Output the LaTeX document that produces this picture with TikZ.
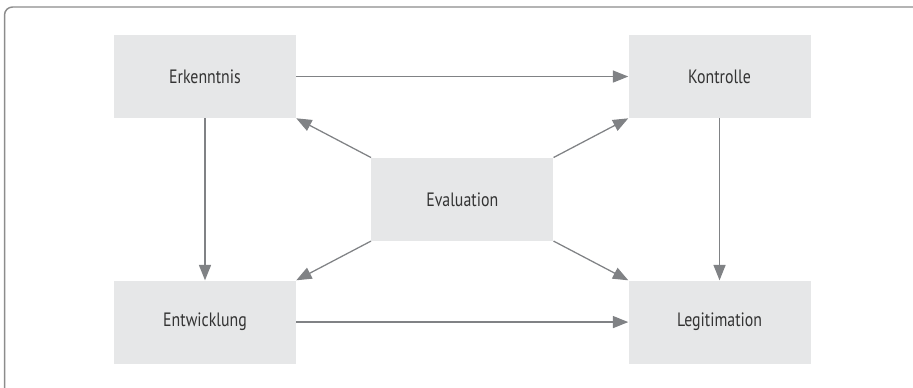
\documentclass[tikz,border=0pt]{standalone}
\usepackage{fontspec}
\setmainfont[FakeStretch=0.82]{PT Sans}
\usetikzlibrary{arrows.meta,positioning,calc}
\definecolor{boxgray}{HTML}{E6E7E8}
\definecolor{linegray}{HTML}{808285}
\definecolor{framegray}{HTML}{8C8C8C}
\definecolor{textgray}{HTML}{333333}
\tikzset{
    stage/.style={rectangle, fill=boxgray, text=textgray, font=\fontsize{14.5}{17}\selectfont, minimum width=136.5pt, minimum height=62.25pt, inner sep=0pt},
    flow/.style={draw=linegray, line width=0.95pt, -{Triangle[length=11.5pt, width=9pt]}},
    frameline/.style={draw=framegray, line width=1.1pt, rounded corners=6pt}
}
\begin{document}
\begin{tikzpicture}[>=Latex]

\useasboundingbox (0,0) rectangle (684.75pt,-290.25pt);

% ----------------------------
% Frame
% ----------------------------
\draw[frameline] (3.4pt,-291pt) -- (3.4pt,-5.25pt) -- (686pt,-5.25pt);

% ----------------------------
% Nodes
% ----------------------------
\node[stage] (erk) at (153.75pt,-57.4pt) {Erkenntnis};
\node[stage, right=249pt of erk] (kon) {Kontrolle};
\node[stage, below=121.5pt of erk] (ent) {Entwicklung};
\node[stage, below=121.5pt of kon] (leg) {Legitimation};
\node[stage] (eva) at ($(erk)!0.5!(leg)$) {Evaluation};

% ----------------------------
% Outer arrows
% ----------------------------
\draw[flow] (erk) -- (kon);
\draw[flow] (ent) -- (leg);
\draw[flow] (erk) -- (ent);
\draw[flow] (kon) -- (leg);

% ----------------------------
% Evaluation arrows (corner to corner)
% ----------------------------
\draw[flow] (eva.north west) -- (erk.south east);
\draw[flow] (eva.north east) -- (kon.south west);
\draw[flow] (eva.south west) -- (ent.north east);
\draw[flow] (eva.south east) -- (leg.north west);

\end{tikzpicture}
\end{document}
